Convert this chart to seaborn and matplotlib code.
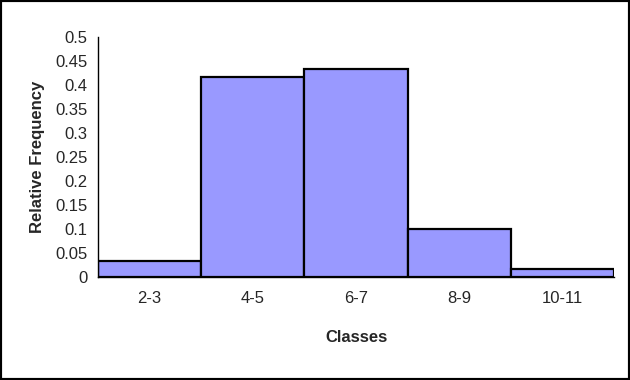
import matplotlib
matplotlib.use("Agg")
import matplotlib.pyplot as plt
import seaborn as sns
import pandas as pd
from matplotlib.patches import Rectangle

classes = ["2-3", "4-5", "6-7", "8-9", "10-11"]
rel_freq = [0.033, 0.417, 0.433, 0.100, 0.017]
y_ticks = [0, 0.05, 0.1, 0.15, 0.2, 0.25, 0.3, 0.35, 0.4, 0.45, 0.5]
y_tick_labels = ["0", "0.05", "0.1", "0.15", "0.2", "0.25", "0.3", "0.35", "0.4", "0.45", "0.5"]

sns.set_style("white")
plt.rcParams['font.family'] = ['Liberation Sans', 'DejaVu Sans']

df = pd.DataFrame({"Classes": classes, "Relative Frequency": rel_freq})

fig = plt.figure(figsize=(6.3, 3.8), dpi=100)
ax = fig.add_axes([98/630, 1-277/380, (614-98)/630, (277-37)/380])

sns.barplot(data=df, x="Classes", y="Relative Frequency", ax=ax, color="#9999FF",
            saturation=1, width=1.0, edgecolor="black", linewidth=1.6)

ax.set_xlim(-0.5, len(classes) - 0.5)
ax.set_ylim(0, 0.5)
ax.set_yticks(y_ticks)
ax.set_yticklabels(y_tick_labels, fontsize=12)

n = len(classes)
ax.set_xticks([i - 0.5 for i in range(n + 1)])
ax.set_xticklabels([""] * (n + 1))
ax.set_xticks(list(range(n)), minor=True)
ax.set_xticklabels(classes, minor=True, fontsize=12)
ax.tick_params(axis="x", which="major", length=5.5, width=1, color="black", direction="out")
ax.tick_params(axis="x", which="minor", length=0, pad=10)
ax.tick_params(axis="y", length=5.5, width=1, color="black", direction="out", pad=2)

for s in ["top", "right"]:
    ax.spines[s].set_visible(False)
for s in ["left", "bottom"]:
    ax.spines[s].set_color("black")
    ax.spines[s].set_linewidth(1)

ax.set_xlabel("Classes", fontsize=12, fontweight="bold", labelpad=17)
ax.set_ylabel("Relative Frequency", fontsize=12, fontweight="bold", labelpad=7)

fig.patches.append(Rectangle((0, 0), 1, 1, transform=fig.transFigure, fill=False,
                             edgecolor="black", linewidth=3, zorder=10))

fig.savefig("out.png", dpi=100, facecolor="white")
